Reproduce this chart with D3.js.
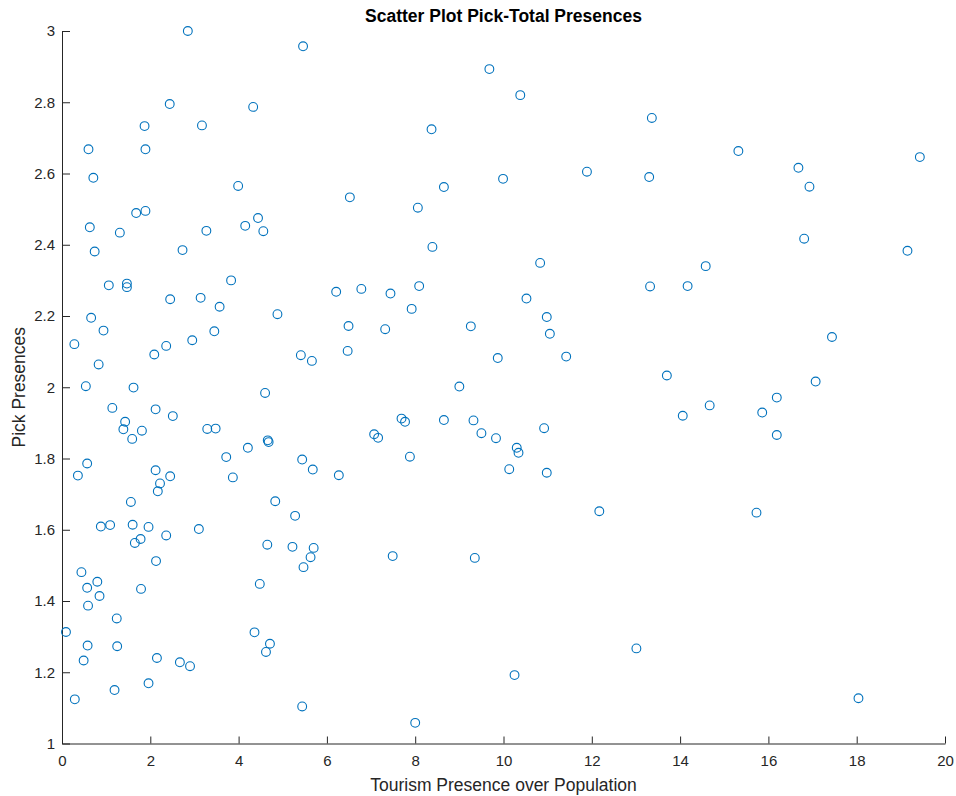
<!DOCTYPE html>
<html>
<head>
<meta charset="utf-8">
<script src="https://cdn.jsdelivr.net/npm/d3@7"></script>
<style>
  body { margin: 0; background: #fff; }
  svg { display: block; }
  text { font-family: "Liberation Sans", Arial, Helvetica, sans-serif; }
</style>
</head>
<body>
<svg id="chart" width="956" height="796"></svg>
<script>
// Tourism presence over population (x) and pick presences (y), one entry per point
const tourismPresence = [
  2.85, 5.46, 9.68, 10.38, 2.44, 4.33, 13.36, 8.37, 1.87, 3.17,
  0.60, 1.89, 15.32, 19.43, 16.68, 11.89, 0.71, 13.30, 9.99, 3.99,
  16.93, 8.65, 6.52, 8.06, 1.68, 1.89, 4.44, 4.15, 0.63, 1.31,
  3.27, 4.56, 16.81, 8.39, 0.74, 2.73, 19.15, 10.83, 14.58, 1.06,
  1.47, 1.47, 3.83, 6.21, 2.45, 3.14, 3.57, 4.88, 6.49, 0.66,
  0.94, 3.45, 0.28, 2.36, 2.95, 2.09, 5.41, 5.66, 6.47, 0.83,
  0.54, 1.62, 4.60, 1.14, 2.12, 2.51, 1.43, 1.39, 1.81, 1.59,
  3.29, 3.48, 4.66, 4.68, 4.21, 3.72, 0.57, 0.36, 2.12, 2.45,
  2.22, 2.17, 3.87, 5.44, 5.68, 6.27, 1.56, 4.83, 5.28, 6.78,
  7.44, 8.09, 7.92, 7.32, 10.52, 10.98, 11.05, 13.32, 9.26, 9.87,
  11.42, 9.00, 7.69, 7.77, 8.65, 9.32, 9.50, 9.83, 10.92, 7.07,
  7.16, 10.30, 10.34, 7.88, 10.13, 10.98, 12.17, 14.17, 17.44, 13.70,
  17.07, 16.19, 14.67, 14.06, 15.86, 16.19, 15.73, 0.88, 1.09, 1.60,
  1.96, 2.36, 3.10, 1.65, 1.78, 2.13, 4.65, 5.22, 5.70, 5.63,
  5.47, 0.44, 0.80, 0.57, 0.85, 1.79, 4.48, 0.59, 1.24, 0.09,
  0.58, 1.25, 4.36, 4.71, 4.62, 0.49, 2.15, 2.67, 2.90, 1.96,
  1.19, 0.29, 5.44, 7.49, 9.35, 13.01, 10.25, 8.00, 18.04
];
const pickPresences = [
  3.000, 2.957, 2.893, 2.820, 2.795, 2.787, 2.756, 2.724, 2.733, 2.735,
  2.668, 2.668, 2.663, 2.646, 2.616, 2.605, 2.588, 2.590, 2.585, 2.565,
  2.563, 2.562, 2.533, 2.504, 2.489, 2.495, 2.475, 2.453, 2.449, 2.434,
  2.439, 2.438, 2.417, 2.394, 2.381, 2.385, 2.383, 2.349, 2.340, 2.286,
  2.291, 2.281, 2.300, 2.268, 2.247, 2.251, 2.226, 2.205, 2.172, 2.195,
  2.159, 2.157, 2.121, 2.116, 2.132, 2.092, 2.090, 2.074, 2.102, 2.064,
  2.003, 1.999, 1.984, 1.942, 1.938, 1.919, 1.903, 1.882, 1.878, 1.855,
  1.883, 1.884, 1.851, 1.846, 1.830, 1.804, 1.786, 1.752, 1.767, 1.750,
  1.730, 1.708, 1.747, 1.797, 1.769, 1.753, 1.678, 1.680, 1.639, 2.276,
  2.263, 2.284, 2.220, 2.163, 2.249, 2.197, 2.150, 2.283, 2.171, 2.082,
  2.086, 2.002, 1.912, 1.903, 1.908, 1.907, 1.871, 1.857, 1.885, 1.868,
  1.858, 1.830, 1.816, 1.805, 1.770, 1.760, 1.652, 2.284, 2.141, 2.033,
  2.016, 1.971, 1.949, 1.920, 1.929, 1.866, 1.648, 1.609, 1.613, 1.614,
  1.608, 1.584, 1.602, 1.563, 1.574, 1.512, 1.558, 1.552, 1.549, 1.523,
  1.495, 1.481, 1.454, 1.437, 1.414, 1.434, 1.448, 1.387, 1.351, 1.313,
  1.275, 1.273, 1.312, 1.280, 1.257, 1.233, 1.240, 1.228, 1.217, 1.169,
  1.150, 1.124, 1.104, 1.526, 1.521, 1.267, 1.192, 1.058, 1.127
];
const xTickValues = [0, 2, 4, 6, 8, 10, 12, 14, 16, 18, 20];
const yTickValues = [1, 1.2, 1.4, 1.6, 1.8, 2, 2.2, 2.4, 2.6, 2.8, 3];
const xDomain = [0, 20];
const yDomain = [1, 3];
const chartTitle = "Scatter Plot Pick-Total Presences";
const xLabel = "Tourism Presence over Population";
const yLabel = "Pick Presences";

const points = tourismPresence.map((x, i) => ({ x, y: pickPresences[i] }));

const W = 956, H = 796;
const margin = { left: 62, right: 11, top: 31, bottom: 52.5 };
const axisColor = "#262626";

const svg = d3.select("#chart");
const x = d3.scaleLinear().domain(xDomain).range([margin.left, W - margin.right]);
const y = d3.scaleLinear().domain(yDomain).range([H - margin.bottom, margin.top]);

// x axis (ticks pointing inward)
const gx = svg.append("g")
  .attr("transform", `translate(0,${H - margin.bottom})`)
  .call(d3.axisBottom(x).tickValues(xTickValues).tickFormat(d3.format("d"))
    .tickSizeInner(-7).tickSizeOuter(0).tickPadding(12));
// y axis
const gy = svg.append("g")
  .attr("transform", `translate(${margin.left},0)`)
  .call(d3.axisLeft(y).tickValues(yTickValues).tickFormat(d => String(+d.toFixed(1)))
    .tickSizeInner(-8).tickSizeOuter(0).tickPadding(7));

[gx, gy].forEach(g => {
  g.select(".domain").attr("stroke", axisColor).attr("stroke-width", 1);
  g.selectAll(".tick line").attr("stroke", axisColor).attr("stroke-width", 1);
  g.selectAll(".tick text").attr("fill", axisColor)
    .style("font-family", '"Liberation Sans", Arial, sans-serif').attr("font-size", 15);
});

// points
svg.append("g")
  .selectAll("circle")
  .data(points)
  .join("circle")
  .attr("cx", d => x(d.x))
  .attr("cy", d => y(d.y))
  .attr("r", 4.4)
  .attr("fill", "none")
  .attr("stroke", "#0072BD")
  .attr("stroke-width", 1.1);

// title
svg.append("text")
  .attr("x", (margin.left + W - margin.right) / 2)
  .attr("y", 22)
  .attr("text-anchor", "middle")
  .attr("font-size", 17.5)
  .attr("font-weight", "bold")
  .attr("fill", "#000")
  .text(chartTitle);

// x label
svg.append("text")
  .attr("x", (margin.left + W - margin.right) / 2)
  .attr("y", 791)
  .attr("text-anchor", "middle")
  .attr("font-size", 17.5)
  .attr("fill", axisColor)
  .text(xLabel);

// y label
svg.append("text")
  .attr("transform", `translate(25,${(margin.top + H - margin.bottom) / 2}) rotate(-90)`)
  .attr("text-anchor", "middle")
  .attr("font-size", 17.5)
  .attr("fill", axisColor)
  .text(yLabel);
</script>
</body>
</html>
